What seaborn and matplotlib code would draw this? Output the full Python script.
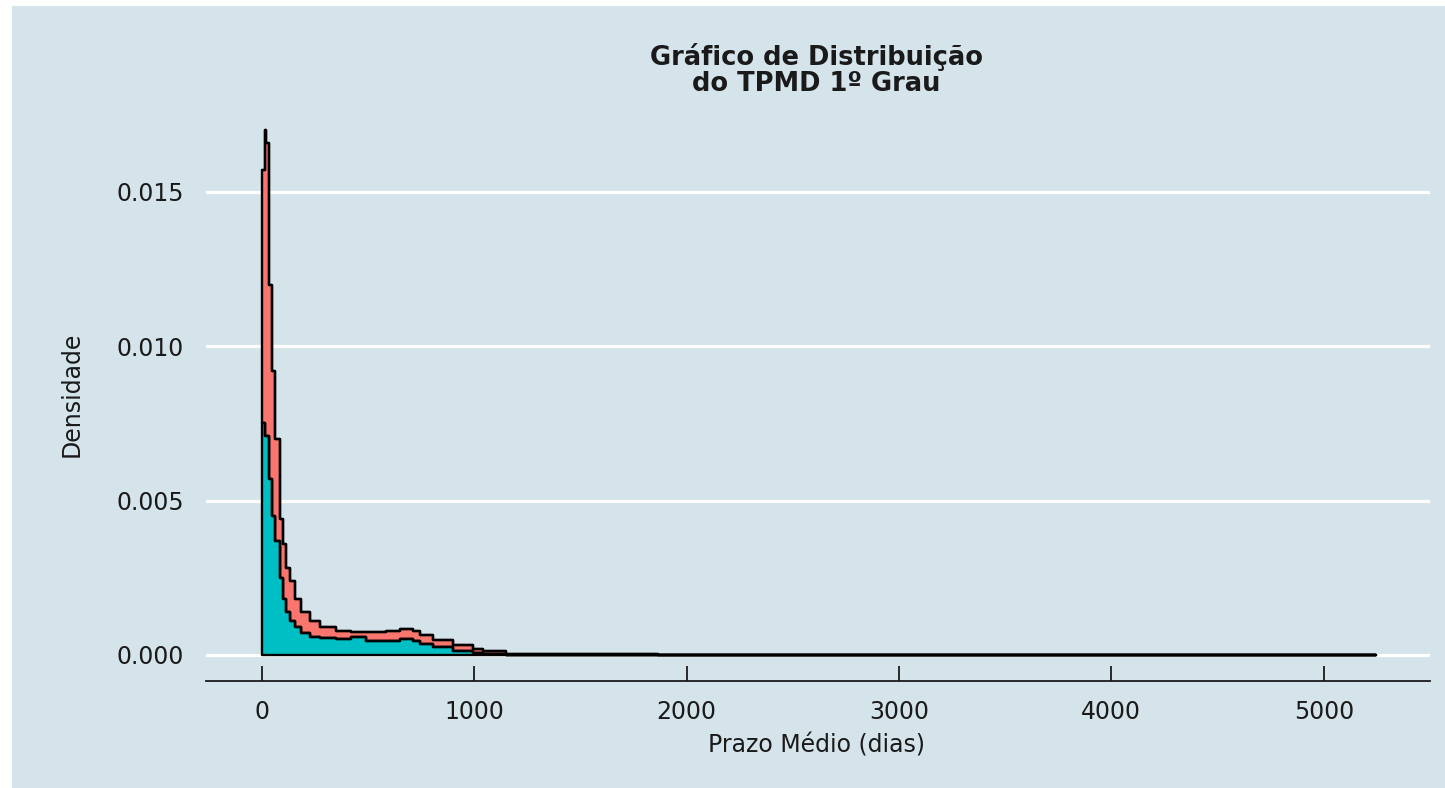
import matplotlib
matplotlib.use("Agg")
import matplotlib.pyplot as plt
import seaborn as sns
import pandas as pd
from matplotlib.patches import Rectangle
from matplotlib.ticker import FormatStrFormatter

# Densities (stacked areas, start of each step)
dias = [0, 14, 22, 33, 47, 61, 85, 100, 116, 132, 155, 187, 226, 273, 352, 420,
        491, 585, 649, 712, 744, 807, 902, 997, 1044, 1150, 1864, 5245]
dens_teal = [0.0075, 0.0071, 0.0071, 0.0057, 0.0045, 0.0037, 0.0025, 0.0018,
             0.0014, 0.0011, 0.0009, 0.0007, 0.00058, 0.00055, 0.00052, 0.00056,
             0.00044, 0.00045, 0.00050, 0.00046, 0.00036, 0.00025, 0.00013,
             0.00006, 0.00002, 0.0, 0.0, 0.0]
dens_red = [0.0082, 0.0099, 0.0095, 0.0063, 0.0047, 0.0033, 0.0019, 0.0018,
            0.0014, 0.0013, 0.0009, 0.0007, 0.00052, 0.00035, 0.00026, 0.00019,
            0.00030, 0.00031, 0.00034, 0.00032, 0.00028, 0.00023, 0.00019,
            0.00014, 0.00010, 0.00004, 0.0, 0.0]

x_ticks = [0, 1000, 2000, 3000, 4000, 5000]
y_ticks = [0.0, 0.005, 0.010, 0.015]

bg = "#d5e4eb"
teal = "#00BFC4"
red = "#F8766D"
dark = "#1a1a1a"

sns.set_style("white", rc={"axes.facecolor": bg})
plt.rcParams["font.family"] = ["DejaVu Sans"]

df = pd.DataFrame({"dias": dias, "teal": dens_teal, "red": dens_red})
df["topo"] = df["teal"] + df["red"]

fig = plt.figure(figsize=(14.45, 7.88), dpi=100, facecolor="white")
# light panel with a thin white border on the left and top
fig.add_artist(Rectangle((12 / 1445, 0), 1, 1 - 6 / 788, transform=fig.transFigure,
                         facecolor=bg, edgecolor="none", zorder=-10))

ax = fig.add_axes([206 / 1445, 1 - 681 / 788, 1224 / 1445, 575.4 / 788])
ax.set_facecolor(bg)

lw = 1.7
# stacked density areas
ax.fill_between(df["dias"], 0, df["teal"], step="post", facecolor=teal,
                edgecolor="black", linewidth=lw, zorder=3)
ax.fill_between(df["dias"], df["teal"], df["topo"], step="post", facecolor=red,
                edgecolor="black", linewidth=lw, zorder=2)
sns.lineplot(data=df, x="dias", y="topo", color="black", linewidth=lw,
             drawstyle="steps-post", ax=ax, zorder=4)
sns.lineplot(data=df, x="dias", y="teal", color="black", linewidth=lw,
             drawstyle="steps-post", ax=ax, zorder=4)

ax.set_xlim(-262, 5500)
ax.set_ylim(-0.00085, 0.0178)
ax.set_xticks(x_ticks)
ax.set_yticks(y_ticks)
ax.yaxis.set_major_formatter(FormatStrFormatter("%.3f"))

ax.yaxis.grid(True, color="white", linewidth=2.3)
ax.xaxis.grid(False)
ax.set_axisbelow(True)

for side in ["top", "left", "right"]:
    ax.spines[side].set_visible(False)
ax.spines["bottom"].set_color(dark)
ax.spines["bottom"].set_linewidth(1.3)

ax.tick_params(axis="x", bottom=True, direction="in", length=11, width=1.3,
               color=dark, labelsize=17, labelcolor=dark, pad=14)
ax.tick_params(axis="y", left=False, length=0, labelsize=17, labelcolor=dark, pad=16)

ax.set_xlabel("")
ax.set_ylabel("")

fig.text(816 / 1445, 1 - 70 / 788, "Gráfico de Distribuição\ndo TPMD 1º Grau",
         ha="center", va="center", fontsize=18.5, fontweight="bold", color=dark,
         linespacing=1.0)
fig.text(816 / 1445, 1 - 746 / 788, "Prazo Médio (dias)", ha="center",
         va="center", fontsize=17, color=dark)
fig.text(72 / 1445, 1 - 394 / 788, "Densidade", ha="center", va="center",
         rotation=90, fontsize=17, color=dark)

fig.savefig("out.png", dpi=100, facecolor=fig.get_facecolor())
